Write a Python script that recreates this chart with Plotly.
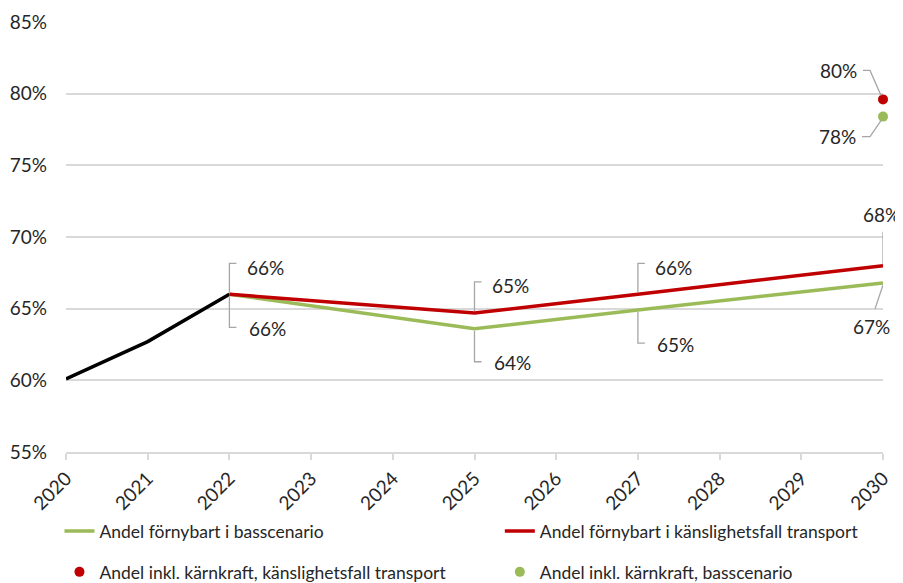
import plotly.graph_objects as go

# historic share (black line)
hist_years = [2020, 2021, 2022]
hist_share = [60.1, 62.7, 66.0]

# renewable share, base scenario / transport sensitivity
scen_years = [2022, 2025, 2027, 2030]
base_share = [66.0, 63.6, 64.9, 66.8]
transport_share = [66.0, 64.7, 66.0, 68.0]

# share including nuclear, 2030
nuclear_year = [2030]
nuclear_transport = [79.6]
nuclear_base = [78.4]

GREEN = "#9bbb59"
RED = "#c00000"
GREY = "#a6a6a6"
FONT = "Lato"

fig = go.Figure()

fig.add_trace(go.Scatter(
    x=hist_years, y=hist_share, mode="lines",
    line=dict(color="black", width=3.5), showlegend=False,
))
fig.add_trace(go.Scatter(
    x=scen_years, y=base_share, mode="lines",
    line=dict(color=GREEN, width=3.5),
    name="Andel förnybart i basscenario", legend="legend",
))
fig.add_trace(go.Scatter(
    x=scen_years, y=transport_share, mode="lines",
    line=dict(color=RED, width=3.5),
    name="Andel förnybart i känslighetsfall transport", legend="legend2",
))
fig.add_trace(go.Scatter(
    x=nuclear_year, y=nuclear_transport, mode="markers",
    marker=dict(color=RED, size=10), cliponaxis=False,
    name="Andel inkl. kärnkraft, känslighetsfall transport", legend="legend3",
))
fig.add_trace(go.Scatter(
    x=nuclear_year, y=nuclear_base, mode="markers",
    marker=dict(color=GREEN, size=10), cliponaxis=False,
    name="Andel inkl. kärnkraft, basscenario", legend="legend4",
))

# label offsets in pixels (dx, dy with dy up) and leader line paths
above = dict(text=(36, 27), path=[(0, 2), (0, 31), (7, 31)])
below = dict(text=(38, -34), path=[(0, -2), (0, -33), (7, -33)])
label_specs = []
for yr, v in zip(scen_years[:3], transport_share[:3]):
    label_specs.append((yr, v, above))
for yr, v in zip(scen_years[:3], base_share[:3]):
    label_specs.append((yr, v, below))
label_specs.append((scen_years[3], transport_share[3], dict(text=(-2, 51), path=[(0, 2), (0, 34)])))
label_specs.append((scen_years[3], base_share[3], dict(text=(-12, -44), path=[(0, -2), (-8, -26)])))
label_specs.append((nuclear_year[0], nuclear_transport[0], dict(text=(-45, 29), path=[(-2, 4), (-13, 29), (-20, 29)])))
label_specs.append((nuclear_year[0], nuclear_base[0], dict(text=(-46, -20), path=[(-2, -4), (-13, -20), (-21, -20)])))

for yr, v, spec in label_specs:
    dx, dy = spec["text"]
    fig.add_annotation(
        x=yr, y=v, xref="x", yref="y", text=f"{v:.0f}%", showarrow=False,
        xshift=dx, yshift=dy, font=dict(family=FONT, size=19, color="#262626"),
    )
    pts = spec["path"]
    d = "M " + " L ".join(f"{px},{py}" for px, py in pts)
    fig.add_shape(
        type="path", path=d, xref="x", yref="y",
        xsizemode="pixel", ysizemode="pixel", xanchor=yr, yanchor=v,
        line=dict(color=GREY, width=1.3),
    )

# page body has an 8px margin, so the figure is 8px smaller and shifted
leg = dict(xanchor="left", yanchor="middle", font=dict(size=17.5),
           bgcolor="rgba(0,0,0,0)", borderwidth=0)
fig.update_layout(
    width=895, height=575,
    margin=dict(l=58, r=20, t=14, b=131, autoexpand=False),
    plot_bgcolor="white", paper_bgcolor="white",
    font=dict(family=FONT, size=19, color="#262626"),
    legend=dict(leg, x=-0.008, y=-0.184),
    legend2=dict(leg, x=0.531, y=-0.184),
    legend3=dict(leg, x=-0.008, y=-0.279),
    legend4=dict(leg, x=0.531, y=-0.279),
    xaxis=dict(
        range=[2020, 2030], dtick=1, tickangle=-45,
        showgrid=False, zeroline=False,
        showline=True, linecolor="#d9d9d9", linewidth=2,
        ticks="outside", ticklen=6, tickcolor="#d9d9d9", tickwidth=2,
        tickfont=dict(size=19),
    ),
    xaxis2=dict(
        range=[2020, 2030], dtick=1, overlaying="x", matches="x",
        showgrid=False, zeroline=False, showticklabels=False,
        ticks="inside", ticklen=7, tickcolor="#d9d9d9", tickwidth=2,
    ),
    yaxis=dict(
        range=[55, 85], dtick=5, ticksuffix="%",
        showgrid=True, gridcolor="#d9d9d9", gridwidth=1.5, zeroline=False,
        showline=False, ticks="", ticklabelstandoff=18,
        tickfont=dict(size=19),
    ),
)

fig.write_html("out.html")
